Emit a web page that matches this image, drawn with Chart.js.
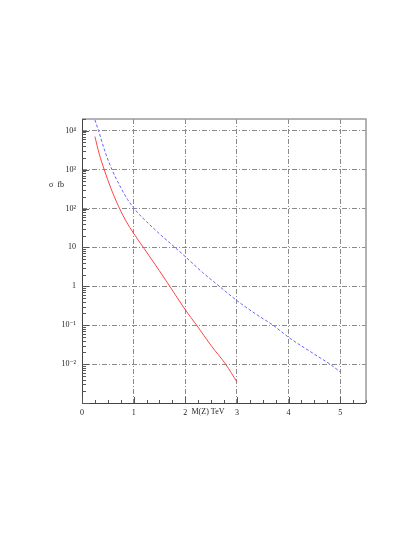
<!DOCTYPE html>
<html>
<head>
<meta charset="utf-8">
<script src="https://cdn.jsdelivr.net/npm/chart.js@4.4.1/dist/chart.umd.min.js"></script>
<style>
    html, body { margin: 0; padding: 0; background: #fff; }
    #wrap { width: 415px; height: 537px; }
</style>
</head>
<body>
<div id="wrap"><canvas id="sigmaChart"></canvas></div>
<script>
// M(Z) in TeV, sigma in fb
const massRed = [0.25, 0.33, 0.43, 0.56, 0.71, 0.85, 1.0, 1.2, 1.5, 1.7, 2.0, 2.22, 2.5, 2.78, 3.0]
const sigmaRed = [7080, 2630, 1000, 331, 112, 48, 23, 9.5, 2.5, 1.0, 0.25, 0.1, 0.03, 0.01, 0.0035]

const massBlue = [0.25, 0.32, 0.45, 0.58, 0.77, 0.88, 1.0, 1.12, 1.25, 1.5, 1.8, 2.0, 2.33, 2.66, 3.0, 3.35, 3.7, 4.0, 4.5, 4.8, 5.0]
const sigmaBlue = [19000, 10000, 2800, 1000, 310, 172, 104, 68, 46, 22.4, 10, 5.8, 2.3, 1.0, 0.43, 0.2, 0.1, 0.049, 0.018, 0.01, 0.0063]

const xTicks = [0, 1, 2, 3, 4, 5]
const xTickLabels = ['0', '1', '2', '3', '4', '5']
const yTicks = [1e-2, 1e-1, 1, 10, 1e2, 1e3, 1e4]
const yTickLabels = ['10\u207B\u00B2', '10\u207B\u00B9', '1', '10', '10\u00B2', '10\u00B3', '10\u2074']

const xMin = 0, xMax = 5.5
const yMin = 1e-3, yMax = 2e4
const fontFam = '"Liberation Serif", "DejaVu Serif", serif'

function toPoints(xs, ys) {
    return xs.map((x, i) => ({ x: x, y: ys[i] }))
}

// axes, frame, inward ticks and axis titles
const framePlugin = {
    id: 'frame',
    afterDraw: function (chart) {
        const ctx = chart.ctx
        const a = chart.chartArea
        const xs = chart.scales.x
        const ys = chart.scales.y
        ctx.save()
        ctx.setLineDash([])

        // top + right frame
        ctx.strokeStyle = '#9a9a9a'
        ctx.lineWidth = 1.5
        ctx.beginPath()
        ctx.moveTo(a.left, a.top)
        ctx.lineTo(a.right, a.top)
        ctx.lineTo(a.right, a.bottom)
        ctx.stroke()

        // left + bottom axis
        ctx.strokeStyle = '#444'
        ctx.lineWidth = 1
        ctx.beginPath()
        ctx.moveTo(a.left + 0.5, a.top)
        ctx.lineTo(a.left + 0.5, a.bottom + 0.5)
        ctx.lineTo(a.right, a.bottom + 0.5)
        ctx.stroke()

        // y ticks (log), pointing into the plot
        ctx.strokeStyle = '#555'
        ctx.beginPath()
        for (let d = -3; d <= 4; d++) {
            for (let k = 1; k <= 9; k++) {
                const v = k * Math.pow(10, d)
                if (v < yMin || v > yMax) continue
                const py = Math.round(ys.getPixelForValue(v)) + 0.5
                const len = k === 1 ? 6 : 3
                ctx.moveTo(a.left, py)
                ctx.lineTo(a.left + 1 + len, py)
            }
        }
        // x ticks every 0.25
        for (let i = 0; i <= 22; i++) {
            const v = i * 0.25
            const px = Math.round(xs.getPixelForValue(v)) + 0.5
            const len = i % 4 === 0 ? 6 : 3
            ctx.moveTo(px, a.bottom)
            ctx.lineTo(px, a.bottom - len)
        }
        ctx.stroke()

        // axis titles
        ctx.fillStyle = '#222'
        ctx.font = '8px ' + fontFam
        ctx.textBaseline = 'middle'
        ctx.textAlign = 'left'
        ctx.fillText('\u03C3  fb', 49, ys.getPixelForValue(400))
        ctx.fillText('M(Z) TeV', xs.getPixelForValue(2.12), a.bottom + 9)
        ctx.restore()
    }
}

const chartCtx = document.getElementById('sigmaChart').getContext('2d')

new Chart(chartCtx, {
    type: 'line',
    data: {
        datasets: [{
            label: 'red',
            data: toPoints(massRed, sigmaRed),
            borderColor: '#ff4646',
            borderWidth: 1,
            pointRadius: 0,
            cubicInterpolationMode: 'monotone',
            fill: false
        }, {
            label: 'blue',
            data: toPoints(massBlue, sigmaBlue),
            borderColor: '#6464ff',
            borderWidth: 1,
            borderDash: [3, 2],
            pointRadius: 0,
            cubicInterpolationMode: 'monotone',
            fill: false
        }]
    },
    options: {
        responsive: true,
        maintainAspectRatio: false,
        animation: false,
        events: [],
        layout: { padding: { left: 0, top: 119, right: 49, bottom: 0 } },
        plugins: {
            legend: { display: false },
            tooltip: { enabled: false }
        },
        scales: {
            x: {
                type: 'linear',
                min: xMin,
                max: xMax,
                afterBuildTicks: function (scale) {
                    scale.ticks = xTicks.map(v => ({ value: v }))
                },
                afterFit: function (scale) {
                    scale.height = 537 - 403
                },
                border: { display: false, dash: [5, 2, 1, 2] },
                grid: {
                    drawTicks: false,
                    lineWidth: 1,
                    color: function (c) {
                        return c.tick && c.tick.value === 0 ? 'rgba(0,0,0,0)' : '#8a8a8a'
                    }
                },
                ticks: {
                    autoSkip: false,
                    maxRotation: 0,
                    padding: 5,
                    color: '#222',
                    font: { family: fontFam, size: 8 },
                    callback: function (v, i) { return xTickLabels[i] }
                }
            },
            y: {
                type: 'logarithmic',
                min: yMin,
                max: yMax,
                afterBuildTicks: function (scale) {
                    scale.ticks = yTicks.map(v => ({ value: v }))
                },
                afterFit: function (scale) {
                    scale.width = 82
                },
                border: { display: false, dash: [5, 2, 1, 2] },
                grid: {
                    drawTicks: false,
                    lineWidth: 1,
                    color: '#8a8a8a'
                },
                ticks: {
                    autoSkip: false,
                    padding: 6,
                    color: '#222',
                    font: { family: fontFam, size: 8 },
                    callback: function (v, i) { return yTickLabels[i] }
                }
            }
        }
    },
    plugins: [framePlugin]
})
</script>
</body>
</html>
